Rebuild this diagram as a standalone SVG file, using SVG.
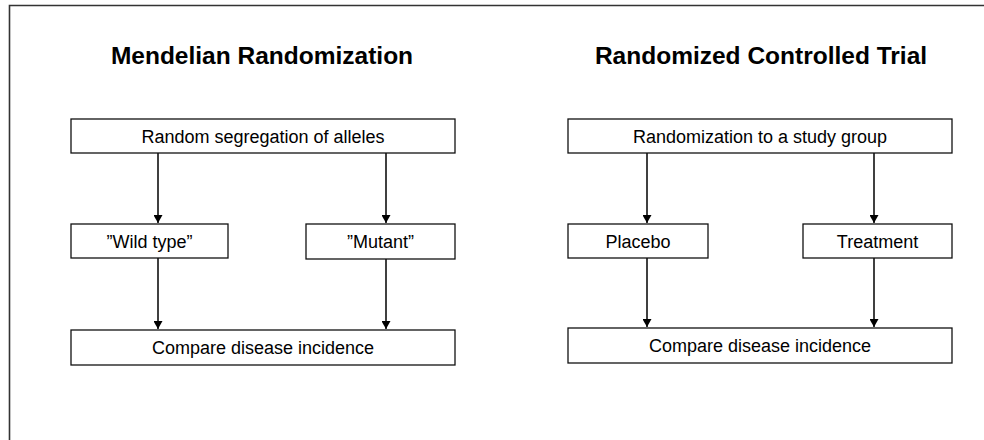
<svg xmlns="http://www.w3.org/2000/svg" width="984" height="440" viewBox="0 0 984 440">
<style>
.box{fill:#fff;stroke:#111;stroke-width:1.3}
.t{font-family:"Liberation Sans",Arial,sans-serif;font-size:18px;fill:#000;text-anchor:middle}
.h{font-family:"Liberation Sans",Arial,sans-serif;font-size:24.5px;font-weight:bold;fill:#000;text-anchor:middle}
.c{stroke:#000;stroke-width:1.5;fill:none;marker-end:url(#ah)}
</style>
<defs>
<marker id="ah" viewBox="0 0 8 9" refX="8" refY="4.5" markerWidth="8" markerHeight="9" markerUnits="userSpaceOnUse" orient="auto">
<path d="M0,0 L8,4.5 L0,9 z" fill="#000"/>
</marker>
</defs>
<rect x="0" y="0" width="984" height="440" fill="#fff"/>
<path d="M9.5,445 V5.5 H990" fill="none" stroke="#333" stroke-width="1.6"/>
<text class="h" x="262" y="64">Mendelian Randomization</text>
<text class="h" x="761" y="64">Randomized Controlled Trial</text>
<g id="connectors">
<line class="c" x1="158" y1="153" x2="158" y2="223"/>
<line class="c" x1="386" y1="153" x2="386" y2="223"/>
<line class="c" x1="158" y1="258" x2="158" y2="329"/>
<line class="c" x1="386" y1="259" x2="386" y2="329"/>
<line class="c" x1="647" y1="153" x2="647" y2="223"/>
<line class="c" x1="874" y1="153" x2="874" y2="223"/>
<line class="c" x1="647" y1="258" x2="647" y2="327"/>
<line class="c" x1="874" y1="258" x2="874" y2="327"/>
</g>
<g id="mr_top"><rect class="box" x="71" y="119" width="384" height="34"/><text class="t" x="263" y="142.5">Random segregation of alleles</text></g>
<g id="mr_wild"><rect class="box" x="71" y="224" width="157" height="34"/><text class="t" x="149.5" y="247.5">”Wild type”</text></g>
<g id="mr_mutant"><rect class="box" x="306" y="224" width="149" height="35"/><text class="t" x="380.5" y="248">”Mutant”</text></g>
<g id="mr_compare"><rect class="box" x="71" y="330" width="384" height="35"/><text class="t" x="263" y="354">Compare disease incidence</text></g>
<g id="rct_top"><rect class="box" x="568" y="119" width="384" height="34"/><text class="t" x="760" y="142.5">Randomization to a study group</text></g>
<g id="rct_placebo"><rect class="box" x="568" y="224" width="140" height="34"/><text class="t" x="638" y="247.5">Placebo</text></g>
<g id="rct_treatment"><rect class="box" x="803" y="224" width="149" height="34"/><text class="t" x="877.5" y="247.5">Treatment</text></g>
<g id="rct_compare"><rect class="box" x="568" y="328" width="384" height="35"/><text class="t" x="760" y="352">Compare disease incidence</text></g>
</svg>
